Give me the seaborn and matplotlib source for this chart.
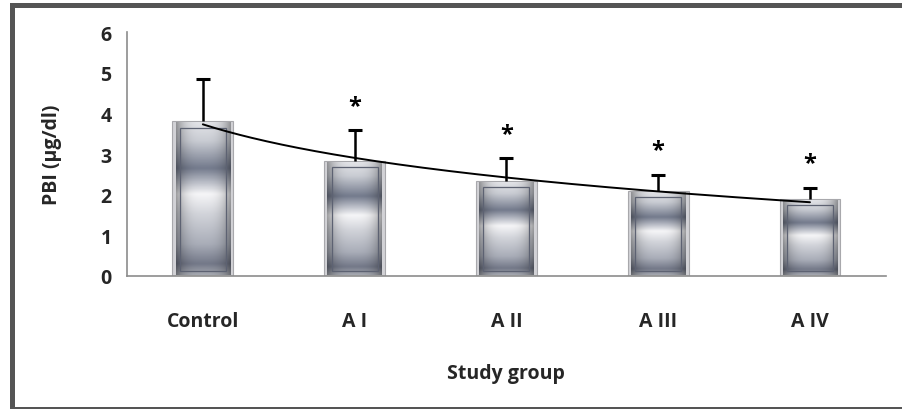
import numpy as np
import pandas as pd
import matplotlib
matplotlib.use("Agg")
import matplotlib.pyplot as plt
from matplotlib.colors import LinearSegmentedColormap
from matplotlib.patches import Rectangle
import seaborn as sns

# data
groups = ["Control", "A I", "A II", "A III", "A IV"]
means = [3.80, 2.83, 2.33, 2.09, 1.90]
sds = [1.04, 0.76, 0.57, 0.40, 0.27]
signif = ["", "*", "*", "*", "*"]

sns.set_theme(style="white")
plt.rcParams["font.family"] = ["Open Sans", "DejaVu Sans"]
plt.rcParams["font.weight"] = "bold"

df = pd.DataFrame({"group": groups, "pbi": means})

fig = plt.figure(figsize=(9.03, 4.10), dpi=100)
ax = fig.add_axes([0.1406, 0.3244, 0.8404, 0.5951])

sns.barplot(data=df, x="group", y="pbi", order=groups, width=0.4,
            errorbar=None, color="#c8c8cc", ax=ax)

# metallic look: vertical band gradient, darker towards the sides
metal = LinearSegmentedColormap.from_list("metal", [
    (0.00, "#e2e3e7"), (0.12, "#c9ccd3"), (0.30, "#737a8c"),
    (0.38, "#b0b4bf"), (0.47, "#f6f6f8"), (0.60, "#d2d4da"),
    (0.80, "#a9adb8"), (0.93, "#737888"), (1.00, "#a5a8b0")])
vert = metal(np.linspace(0, 1, 200))[:, None, :3]
side = 1 - 0.35 * np.abs(np.linspace(-1, 1, 60)) ** 3
img = np.clip(vert * side[None, :, None], 0, 1)

for p in ax.patches:
    x0, y0 = p.get_x(), p.get_y()
    w, h = p.get_width(), p.get_height()
    p.set_facecolor("#d2d2d6")
    p.set_edgecolor("#a8a8ac")
    p.set_linewidth(0.8)
    ix = w * 0.12
    inner = Rectangle((x0 + ix, y0 + 0.12), w - 2 * ix, h - 0.12 - 0.15,
                      facecolor="none", edgecolor="#5d6272", linewidth=0.9, zorder=3)
    ax.imshow(img, extent=(x0 + 0.02, x0 + w - 0.02, y0 + 0.03, y0 + h - 0.03),
              aspect="auto", zorder=2, interpolation="bicubic")
    ax.add_patch(inner)

xpos = np.arange(len(groups))
tops = np.array(means) + np.array(sds)
# upper-only error bars
ax.vlines(xpos, means, tops, color="black", lw=1.8, zorder=4)
ax.scatter(xpos, tops, marker="_", s=90, linewidths=2.2, color="black", zorder=4)

# logarithmic trend line (least squares on the group means)
k = xpos + 1
b, a = np.polyfit(np.log(k), means, 1)
kk = np.linspace(1, len(groups), 200)
ax.plot(kk - 1, a + b * np.log(kk), color="black", lw=1.4, zorder=5)

for xi, t_, t in zip(xpos, tops, signif):
    if t:
        ax.text(xi, t_ + 0.6, t, ha="center", va="center",
                fontsize=17, fontweight="bold", color="black")

ax.set_xlim(-0.5, len(groups) - 0.5)
ax.set_ylim(0, 6)
ax.set_yticks(range(0, 7))
ax.set_xticks(np.arange(-0.5, len(groups)), minor=False)
ax.set_xticklabels([])
ax.set_xticks(xpos, minor=True)
ax.set_xticklabels(groups, minor=True)
ax.tick_params(axis="x", which="major", direction="out", length=6, color="#8c8c8c", width=1)
ax.tick_params(axis="x", which="minor", length=0, pad=25, labelsize=14)
ax.tick_params(axis="y", direction="out", length=6, color="#8c8c8c", width=1, labelsize=14, pad=5)
for lab in ax.get_xticklabels(minor=True) + ax.get_yticklabels():
    lab.set_fontweight("bold")

for sp in ["top", "right"]:
    ax.spines[sp].set_visible(False)
for sp in ["left", "bottom"]:
    ax.spines[sp].set_color("#8c8c8c")
    ax.spines[sp].set_linewidth(1.2)

ax.set_xlabel("Study group", fontsize=14, fontweight="bold", labelpad=23)
ax.set_ylabel("PBI (µg/dl)", fontsize=14, fontweight="bold", labelpad=28)

# chart frame
fig.patches.append(Rectangle((0.0111, 0.0), 0.0055, 0.988, transform=fig.transFigure,
                             facecolor="#555555", edgecolor="none"))
fig.patches.append(Rectangle((0.0111, 0.978), 0.989, 0.012, transform=fig.transFigure,
                             facecolor="#555555", edgecolor="none"))
fig.patches.append(Rectangle((0.0111, 0.0), 0.989, 0.006, transform=fig.transFigure,
                             facecolor="#555555", edgecolor="none"))

fig.savefig("out.png", dpi=100)
